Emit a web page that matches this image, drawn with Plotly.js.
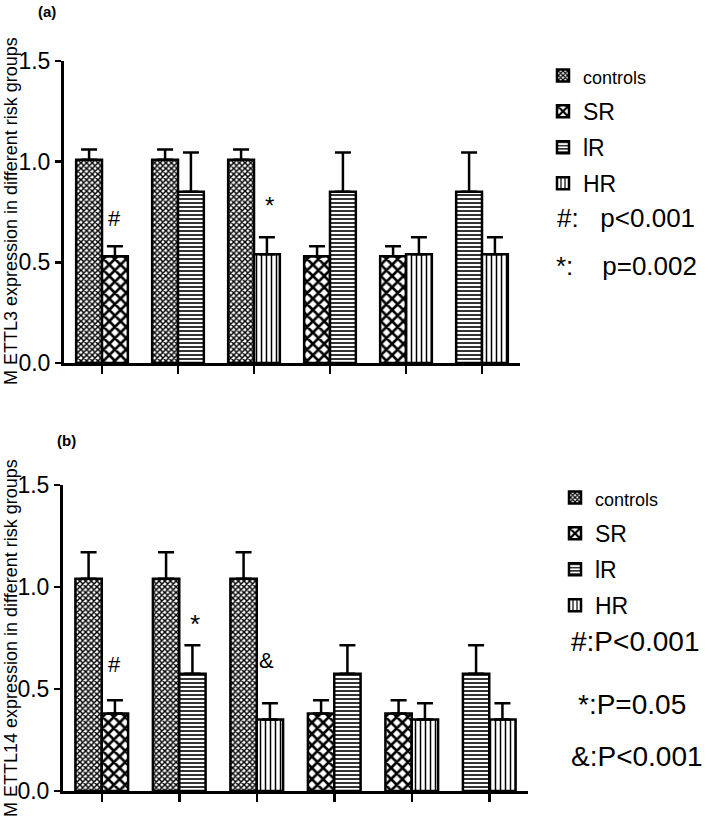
<!DOCTYPE html>
<html>
<head>
<meta charset="utf-8">
<script src="https://cdn.plot.ly/plotly-3.0.1.min.js"></script>
<style>
  html, body { margin: 0; padding: 0; background: #ffffff; }
  #chart { width: 709px; height: 822px; }
</style>
</head>
<body>
<div id="chart"></div>
<script>
// comparisons drawn as pairs of bars, left to right
const comparisons = ["controls vs SR", "controls vs IR", "controls vs HR", "SR vs IR", "SR vs HR", "IR vs HR"];
const groupNames = ["controls", "SR", "IR", "HR"];

// which comparison each group appears in, and on which side of the pair
const controlsAt = ["controls vs SR", "controls vs IR", "controls vs HR"];
const controlsSide = ["left", "left", "left"];
const srAt = ["controls vs SR", "SR vs IR", "SR vs HR"];
const srSide = ["right", "left", "left"];
const irAt = ["controls vs IR", "SR vs IR", "IR vs HR"];
const irSide = ["right", "right", "left"];
const hrAt = ["controls vs HR", "SR vs HR", "IR vs HR"];
const hrSide = ["right", "right", "right"];

// (a) METTL3 expression, mean and upper error
const mettl3Controls = [1.01, 1.01, 1.01];
const mettl3ControlsErr = [0.05, 0.05, 0.05];
const mettl3SR = [0.53, 0.53, 0.53];
const mettl3SRErr = [0.05, 0.05, 0.05];
const mettl3IR = [0.85, 0.85, 0.85];
const mettl3IRErr = [0.195, 0.195, 0.195];
const mettl3HR = [0.54, 0.54, 0.54];
const mettl3HRErr = [0.085, 0.085, 0.085];

// (b) METTL14 expression
const mettl14Controls = [1.04, 1.04, 1.04];
const mettl14ControlsErr = [0.13, 0.13, 0.13];
const mettl14SR = [0.38, 0.38, 0.38];
const mettl14SRErr = [0.065, 0.065, 0.065];
const mettl14IR = [0.575, 0.575, 0.575];
const mettl14IRErr = [0.14, 0.14, 0.14];
const mettl14HR = [0.35, 0.35, 0.35];
const mettl14HRErr = [0.08, 0.08, 0.08];

const yTicks = [0, 0.5, 1.0, 1.5];
const yTickText = ["0.0", "0.5", "1.0", "1.5"];

const font = "Liberation Sans, Arial, Helvetica, sans-serif";
const barWidth = 0.34;

const patterns = {
  controls: { shape: "x", size: 4, solidity: 0.6, fgcolor: "#000", bgcolor: "#fff" },
  SR: { shape: "x", size: 8, solidity: 0.55, fgcolor: "#000", bgcolor: "#fff" },
  IR: { shape: "-", size: 4, solidity: 0.4, fgcolor: "#000", bgcolor: "#fff" },
  HR: { shape: "|", size: 5, solidity: 0.3, fgcolor: "#000", bgcolor: "#fff" },
};

const legendLabel = {
  controls: "<span style='font-size:18px'>controls</span>",
  SR: "SR",
  IR: "lR",
  HR: "HR",
};

function barTrace(group, at, side, vals, errs, panel) {
  const axisSuffix = panel === "a" ? "" : "2";
  return {
    type: "bar",
    name: legendLabel[group],
    legend: panel === "a" ? "legend" : "legend2",
    legendgroup: panel + group,
    x: at,
    y: vals,
    width: at.map(() => barWidth),
    offset: side.map((s) => (s === "left" ? -barWidth : 0)),
    xaxis: "x" + axisSuffix,
    yaxis: "y" + axisSuffix,
    marker: { color: "#fff", pattern: patterns[group], line: { color: "#000", width: 2.5 } },
    error_y: { type: "data", symmetric: false, array: errs, arrayminus: errs.map(() => 0), color: "#000", thickness: 2.5, width: 8 },
    hovertemplate: `${group}: %{y}<extra></extra>`,
  };
}

const traces = [
  barTrace("controls", controlsAt, controlsSide, mettl3Controls, mettl3ControlsErr, "a"),
  barTrace("SR", srAt, srSide, mettl3SR, mettl3SRErr, "a"),
  barTrace("IR", irAt, irSide, mettl3IR, mettl3IRErr, "a"),
  barTrace("HR", hrAt, hrSide, mettl3HR, mettl3HRErr, "a"),
  barTrace("controls", controlsAt, controlsSide, mettl14Controls, mettl14ControlsErr, "b"),
  barTrace("SR", srAt, srSide, mettl14SR, mettl14SRErr, "b"),
  barTrace("IR", irAt, irSide, mettl14IR, mettl14IRErr, "b"),
  barTrace("HR", hrAt, hrSide, mettl14HR, mettl14HRErr, "b"),
];

function xAxis(domain, anchor) {
  return {
    domain, anchor,
    type: "category",
    categoryorder: "array",
    categoryarray: comparisons,
    range: [-0.5, comparisons.length - 0.5],
    showticklabels: false,
    ticks: "outside", ticklen: 8, tickwidth: 2.5, tickcolor: "#000",
    showline: true, linewidth: 3, linecolor: "#000",
    showgrid: false, zeroline: false, fixedrange: true,
  };
}

function yAxis(domain, anchor) {
  return {
    domain, anchor,
    range: [0, 1.5],
    tickvals: yTicks, ticktext: yTickText,
    ticks: "outside", ticklen: 6, tickwidth: 2.5, tickcolor: "#000",
    tickfont: { family: font, size: 23, color: "#000" },
    showline: true, linewidth: 3, linecolor: "#000",
    showgrid: false, zeroline: false, fixedrange: true,
  };
}

function note(text, x, y, size, xref, yref, extra = {}) {
  return Object.assign({
    text, x, y, xref, yref, showarrow: false,
    xanchor: "center", yanchor: "middle",
    font: { family: font, size, color: "#000" },
  }, extra);
}

const H = 822, W = 709;
const py = (px) => 1 - px / H;
const px = (p) => p / W;

const legendCommon = {
  font: { family: font, size: 23, color: "#000" },
  bgcolor: "rgba(0,0,0,0)",
  tracegroupgap: 3,
  itemclick: false, itemdoubleclick: false,
  xanchor: "left", yanchor: "top",
};

const layout = {
  width: W, height: H,
  margin: { l: 0, r: 0, t: 0, b: 0 },
  paper_bgcolor: "#fff", plot_bgcolor: "#fff",
  font: { family: font, color: "#000" },
  barmode: "overlay",
  showlegend: true,
  xaxis: xAxis([px(64), px(520)], "y"),
  yaxis: yAxis([py(363), py(61)], "x"),
  xaxis2: xAxis([px(63), px(528)], "y2"),
  yaxis2: yAxis([py(791), py(485)], "x2"),
  legend: Object.assign({ x: px(543), y: py(54) }, legendCommon),
  legend2: Object.assign({ x: px(555), y: py(476) }, legendCommon),
  annotations: [
    note("<b>(a)</b>", px(47), py(12), 15, "paper", "paper"),
    note("<b>(b)</b>", px(66), py(441), 15, "paper", "paper"),
    note("M ETTL3 expression in different risk groups", px(11), py(211), 18, "paper", "paper", { textangle: -90 }),
    note("M ETTL14 expression in different risk groups", px(11), py(638), 18, "paper", "paper", { textangle: -90 }),
    // significance marks over bars
    note("#", "controls vs SR", 0.72, 22, "x", "y", { xshift: 12 }),
    note("*", "controls vs HR", 0.78, 24, "x", "y", { xshift: 15 }),
    note("#", "controls vs SR", 0.62, 22, "x2", "y2", { xshift: 13 }),
    note("*", "controls vs IR", 0.82, 26, "x2", "y2", { xshift: 16 }),
    note("&", "controls vs HR", 0.64, 22, "x2", "y2", { xshift: 10 }),
    // p-value keys
    note("#:&nbsp;&nbsp; p<0.001", px(555), py(218), 26, "paper", "paper", { xanchor: "left" }),
    note("*:&nbsp;&nbsp;&nbsp; p=0.002", px(554), py(266), 26, "paper", "paper", { xanchor: "left" }),
    note("#:P<0.001", px(569), py(641), 28, "paper", "paper", { xanchor: "left" }),
    note("*:P=0.05", px(576), py(704), 28, "paper", "paper", { xanchor: "left" }),
    note("&:P<0.001", px(569), py(756), 28, "paper", "paper", { xanchor: "left" }),
  ],
};

Plotly.newPlot("chart", traces, layout, { displayModeBar: false, staticPlot: true });
</script>
</body>
</html>
